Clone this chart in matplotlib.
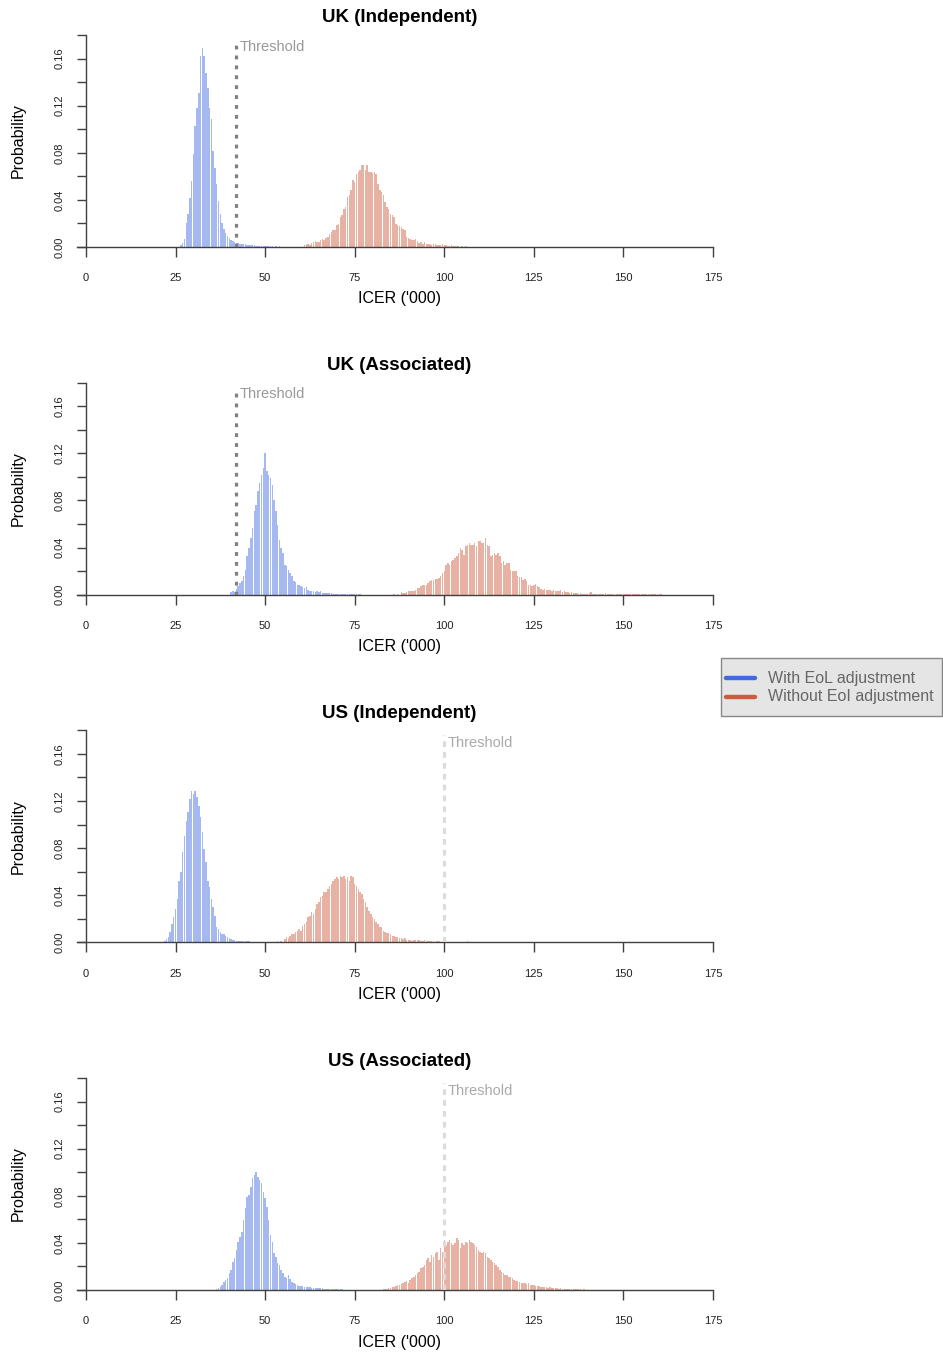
import numpy as np
import matplotlib
matplotlib.use('Agg')
import matplotlib.pyplot as plt
from matplotlib.lines import Line2D
from matplotlib.patches import Rectangle

plt.rcParams['font.family'] = ['Liberation Sans', 'DejaVu Sans']

# ICER histograms, bins of 0.5 ('000), probability per bin
bin_width = 0.5

titles = ['UK (Independent)', 'UK (Associated)', 'US (Independent)', 'US (Associated)']
thresholds = [42, 42, 100, 100]
series_labels = ['With EoL adjustment', 'Without EoI adjustment']

# first bin of each series
eol_start = [26.5, 40.5, 22.0, 36.5]
noeol_start = [61.0, 86.0, 53.5, 82.5]

uk_ind_eol = [0.0017, 0.0037, 0.0065, 0.0207, 0.0278, 0.0419, 0.0561, 0.0787, 0.1028, 0.1184,
              0.1311, 0.1623, 0.1693, 0.1623, 0.1481, 0.1354, 0.1184, 0.1085, 0.0816, 0.0674,
              0.0532, 0.0391, 0.0278, 0.0207, 0.0150, 0.0122, 0.0093, 0.0074, 0.0057, 0.0051,
              0.0042, 0.0037, 0.0031, 0.0028, 0.0025, 0.0023, 0.0023, 0.0020, 0.0017, 0.0017,
              0.0014, 0.0014, 0.0011, 0.0011, 0.0008, 0.0011, 0.0008, 0.0008, 0.0006, 0.0008,
              0.0006, 0.0006, 0.0004, 0.0006, 0.0003, 0.0005, 0.0003, 0.0003, 0.0004, 0.0002,
              0.0003]
uk_ind_noeol = [0.0014, 0.0028, 0.0023, 0.0017, 0.0034, 0.0042, 0.0051, 0.0040, 0.0045, 0.0057,
                0.0071, 0.0062, 0.0079, 0.0085, 0.0113, 0.0127, 0.0142, 0.0142, 0.0184, 0.0198,
                0.0255, 0.0269, 0.0326, 0.0340, 0.0425, 0.0439, 0.0481, 0.0566, 0.0552, 0.0623,
                0.0637, 0.0651, 0.0694, 0.0694, 0.0651, 0.0700, 0.0637, 0.0637, 0.0629, 0.0637,
                0.0623, 0.0538, 0.0481, 0.0467, 0.0439, 0.0382, 0.0340, 0.0326, 0.0283, 0.0269,
                0.0255, 0.0198, 0.0184, 0.0176, 0.0170, 0.0156, 0.0142, 0.0085, 0.0079, 0.0071,
                0.0057, 0.0062, 0.0071, 0.0051, 0.0034, 0.0040, 0.0028, 0.0042, 0.0028, 0.0023,
                0.0028, 0.0017, 0.0023, 0.0023, 0.0017, 0.0017, 0.0017, 0.0023, 0.0014, 0.0014,
                0.0008, 0.0006, 0.0014, 0.0011, 0.0006, 0.0008, 0.0006, 0.0004, 0.0006, 0.0003,
                0.0005, 0.0004, 0.0003, 0.0004, 0.0002, 0.0003, 0.0004, 0.0002, 0.0003, 0.0002,
                0.0003, 0.0002]

uk_ass_eol = [0.0023, 0.0028, 0.0023, 0.0051, 0.0071, 0.0099, 0.0113, 0.0156, 0.0212, 0.0326,
              0.0396, 0.0481, 0.0566, 0.0708, 0.0765, 0.0878, 0.0949, 0.1020, 0.1076, 0.1204,
              0.1048, 0.1020, 0.0991, 0.0935, 0.0807, 0.0708, 0.0595, 0.0467, 0.0396, 0.0354,
              0.0255, 0.0241, 0.0212, 0.0184, 0.0156, 0.0113, 0.0108, 0.0085, 0.0079, 0.0071,
              0.0062, 0.0057, 0.0062, 0.0042, 0.0028, 0.0028, 0.0034, 0.0023, 0.0028, 0.0023,
              0.0028, 0.0017, 0.0014, 0.0017, 0.0014, 0.0011, 0.0014, 0.0008, 0.0006, 0.0008,
              0.0006, 0.0006, 0.0006, 0.0003, 0.0006, 0.0003, 0.0004, 0.0005, 0.0003, 0.0003,
              0.0004, 0.0002, 0.0003]
uk_ass_noeol = [0.0006, 0.0000, 0.0008, 0.0000, 0.0023, 0.0014, 0.0011, 0.0023, 0.0034, 0.0028,
                0.0028, 0.0028, 0.0042, 0.0057, 0.0057, 0.0071, 0.0079, 0.0085, 0.0085, 0.0099,
                0.0113, 0.0127, 0.0127, 0.0136, 0.0136, 0.0142, 0.0156, 0.0184, 0.0198, 0.0255,
                0.0269, 0.0255, 0.0283, 0.0297, 0.0312, 0.0326, 0.0354, 0.0396, 0.0382, 0.0340,
                0.0411, 0.0425, 0.0439, 0.0425, 0.0425, 0.0439, 0.0411, 0.0453, 0.0453, 0.0439,
                0.0439, 0.0481, 0.0425, 0.0411, 0.0326, 0.0340, 0.0354, 0.0340, 0.0354, 0.0326,
                0.0269, 0.0283, 0.0255, 0.0269, 0.0269, 0.0212, 0.0198, 0.0204, 0.0198, 0.0156,
                0.0147, 0.0147, 0.0127, 0.0136, 0.0113, 0.0085, 0.0079, 0.0071, 0.0085, 0.0091,
                0.0071, 0.0062, 0.0051, 0.0042, 0.0051, 0.0040, 0.0042, 0.0037, 0.0034, 0.0040,
                0.0034, 0.0034, 0.0028, 0.0040, 0.0023, 0.0028, 0.0023, 0.0023, 0.0017, 0.0023,
                0.0017, 0.0014, 0.0011, 0.0008, 0.0014, 0.0008, 0.0008, 0.0008, 0.0008, 0.0014,
                0.0023, 0.0008, 0.0006, 0.0006, 0.0008, 0.0006, 0.0006, 0.0006, 0.0011, 0.0006,
                0.0004, 0.0003, 0.0005, 0.0003, 0.0004, 0.0003, 0.0002, 0.0004, 0.0003, 0.0002,
                0.0003, 0.0002, 0.0003, 0.0002, 0.0002, 0.0003, 0.0002, 0.0002, 0.0002, 0.0002,
                0.0003, 0.0002, 0.0002, 0.0002, 0.0003, 0.0002, 0.0002, 0.0002, 0.0002, 0.0002]

us_ind_eol = [0.0014, 0.0028, 0.0042, 0.0085, 0.0156, 0.0212, 0.0283, 0.0368, 0.0524, 0.0595,
              0.0765, 0.0906, 0.1034, 0.1104, 0.1218, 0.1289, 0.1260, 0.1289, 0.1232, 0.1161,
              0.1062, 0.0935, 0.0793, 0.0680, 0.0524, 0.0467, 0.0368, 0.0297, 0.0227, 0.0127,
              0.0113, 0.0085, 0.0071, 0.0071, 0.0057, 0.0042, 0.0034, 0.0028, 0.0023, 0.0017,
              0.0014, 0.0011, 0.0014, 0.0008, 0.0011, 0.0008, 0.0008, 0.0008, 0.0006, 0.0006,
              0.0006, 0.0004, 0.0005, 0.0003, 0.0004, 0.0003, 0.0003, 0.0002, 0.0003, 0.0002,
              0.0002, 0.0003, 0.0002, 0.0002, 0.0002, 0.0002]
us_ind_noeol = [0.0008, 0.0000, 0.0014, 0.0000, 0.0028, 0.0042, 0.0034, 0.0057, 0.0071, 0.0071,
                0.0085, 0.0099, 0.0113, 0.0099, 0.0142, 0.0156, 0.0170, 0.0212, 0.0227, 0.0255,
                0.0241, 0.0283, 0.0326, 0.0340, 0.0382, 0.0396, 0.0425, 0.0425, 0.0453, 0.0481,
                0.0496, 0.0524, 0.0538, 0.0552, 0.0538, 0.0566, 0.0552, 0.0566, 0.0538, 0.0552,
                0.0524, 0.0566, 0.0552, 0.0496, 0.0481, 0.0453, 0.0425, 0.0411, 0.0368, 0.0340,
                0.0297, 0.0269, 0.0241, 0.0212, 0.0198, 0.0170, 0.0156, 0.0127, 0.0127, 0.0099,
                0.0085, 0.0079, 0.0079, 0.0071, 0.0057, 0.0051, 0.0045, 0.0042, 0.0034, 0.0034,
                0.0028, 0.0034, 0.0023, 0.0023, 0.0017, 0.0014, 0.0023, 0.0017, 0.0023, 0.0017,
                0.0014, 0.0014, 0.0017, 0.0011, 0.0011, 0.0008, 0.0011, 0.0008, 0.0006, 0.0008,
                0.0008, 0.0006, 0.0006, 0.0008, 0.0006, 0.0006, 0.0004, 0.0003, 0.0005, 0.0003,
                0.0002, 0.0004, 0.0002, 0.0003, 0.0002, 0.0002, 0.0008, 0.0002, 0.0002, 0.0002]

us_ass_eol = [0.0008, 0.0014, 0.0028, 0.0042, 0.0071, 0.0085, 0.0099, 0.0142, 0.0170, 0.0241,
              0.0269, 0.0340, 0.0411, 0.0453, 0.0496, 0.0595, 0.0694, 0.0793, 0.0807, 0.0878,
              0.0949, 0.0977, 0.1005, 0.0963, 0.0935, 0.0906, 0.0835, 0.0779, 0.0708, 0.0595,
              0.0467, 0.0411, 0.0312, 0.0283, 0.0227, 0.0212, 0.0170, 0.0142, 0.0113, 0.0099,
              0.0127, 0.0091, 0.0071, 0.0057, 0.0051, 0.0042, 0.0037, 0.0034, 0.0034, 0.0028,
              0.0028, 0.0023, 0.0023, 0.0020, 0.0017, 0.0014, 0.0017, 0.0014, 0.0014, 0.0014,
              0.0011, 0.0011, 0.0008, 0.0008, 0.0008, 0.0008, 0.0006, 0.0006, 0.0006, 0.0006,
              0.0006, 0.0004, 0.0003, 0.0004, 0.0003, 0.0002, 0.0003, 0.0002]
us_ass_noeol = [0.0003, 0.0006, 0.0008, 0.0011, 0.0014, 0.0017, 0.0023, 0.0028, 0.0034, 0.0040,
                0.0042, 0.0051, 0.0057, 0.0071, 0.0079, 0.0062, 0.0085, 0.0099, 0.0108, 0.0127,
                0.0142, 0.0156, 0.0184, 0.0193, 0.0212, 0.0255, 0.0269, 0.0241, 0.0297, 0.0283,
                0.0312, 0.0326, 0.0255, 0.0354, 0.0326, 0.0425, 0.0382, 0.0411, 0.0425, 0.0396,
                0.0382, 0.0396, 0.0439, 0.0425, 0.0354, 0.0396, 0.0382, 0.0411, 0.0396, 0.0425,
                0.0411, 0.0396, 0.0382, 0.0368, 0.0340, 0.0326, 0.0312, 0.0326, 0.0312, 0.0283,
                0.0269, 0.0255, 0.0241, 0.0227, 0.0212, 0.0198, 0.0170, 0.0156, 0.0142, 0.0127,
                0.0127, 0.0113, 0.0108, 0.0099, 0.0085, 0.0079, 0.0079, 0.0071, 0.0057, 0.0062,
                0.0057, 0.0051, 0.0057, 0.0042, 0.0040, 0.0040, 0.0034, 0.0034, 0.0034, 0.0028,
                0.0025, 0.0023, 0.0023, 0.0017, 0.0023, 0.0020, 0.0017, 0.0017, 0.0014, 0.0011,
                0.0014, 0.0011, 0.0011, 0.0008, 0.0011, 0.0008, 0.0008, 0.0008, 0.0006, 0.0011,
                0.0008, 0.0006, 0.0004, 0.0005, 0.0003, 0.0004, 0.0003, 0.0002, 0.0004, 0.0003,
                0.0002, 0.0003, 0.0002, 0.0003, 0.0002, 0.0002, 0.0003, 0.0002, 0.0002, 0.0002,
                0.0002, 0.0003, 0.0002, 0.0002]

eol_series = [uk_ind_eol, uk_ass_eol, us_ind_eol, us_ass_eol]
noeol_series = [uk_ind_noeol, uk_ass_noeol, us_ind_noeol, us_ass_noeol]

x_ticks = [0, 25, 50, 75, 100, 125, 150, 175]
y_major = [0.0, 0.04, 0.08, 0.12, 0.16]
y_minor = [0.02, 0.06, 0.10, 0.14, 0.18]

blue = '#4169e1'
red = '#cd5c3c'
axis_col = '#404040'

W, H = 943, 1355
fig = plt.figure(figsize=(W / 100, H / 100), dpi=100)

left_px, width_px = 77, 636
x0_val, x_max = -2.5, 175
y_top = 0.18
height_px = 212
centre_px = 399.5

for k in range(4):
    zero_px = 247 + 347.67 * k
    ax = fig.add_axes([left_px / W, 1 - zero_px / H, width_px / W, height_px / H])

    for start, vals, col in [(eol_start[k], eol_series[k], blue),
                             (noeol_start[k], noeol_series[k], red)]:
        xs = start + bin_width * np.arange(len(vals))
        ax.bar(xs, vals, width=0.42, color=col, alpha=0.47, linewidth=0, zorder=1)

    thr = thresholds[k]
    if k < 2:
        ax.vlines(thr, 0, 0.176, colors='#808080', linewidth=2.3,
                  linestyles=(0, (1.2, 1.9)), zorder=3)
        ax.text(thr + 1.0, 0.170, 'Threshold', color='#999999', fontsize=10.5,
                ha='left', va='center')
    else:
        ax.vlines(thr, 0, 0.176, colors='#dcdcdc', linewidth=2.3,
                  linestyles=(0, (1.8, 1.6)), zorder=3)
        ax.text(thr + 1.0, 0.169, 'Threshold', color='#aaaaaa', fontsize=10.5,
                ha='left', va='center')

    ax.set_xlim(x0_val, x_max)
    ax.set_ylim(0, y_top)
    ax.patch.set_alpha(0)
    for s in ['top', 'right']:
        ax.spines[s].set_visible(False)
    ax.spines['left'].set_bounds(0, y_top)
    ax.spines['left'].set_position(('data', 0))
    for s in ['left', 'bottom']:
        ax.spines[s].set_color(axis_col)
        ax.spines[s].set_linewidth(1.0)

    ax.set_xticks(x_ticks)
    ax.set_xticklabels([str(t) for t in x_ticks])
    ax.set_yticks(y_major)
    ax.set_yticklabels(['%.2f' % v for v in y_major])
    ax.set_yticks(y_minor, minor=True)
    ax.tick_params(axis='x', length=7, width=1.0, color=axis_col, labelsize=8,
                   pad=12, labelcolor='#222222')
    ax.tick_params(axis='y', which='both', length=6.5, width=1.0, color=axis_col,
                   labelsize=8, pad=9, labelcolor='#222222')
    for lab in ax.get_yticklabels():
        lab.set_rotation(90)
        lab.set_va('center')

    fig.text(centre_px / W, 1 - (zero_px - 229) / H, titles[k], fontsize=13.5,
             fontweight='bold', ha='center', va='center')
    fig.text(centre_px / W, 1 - (zero_px + 52) / H, "ICER ('000)", fontsize=11.5,
             ha='center', va='center')
    fig.text(18.5 / W, 1 - (zero_px - 106) / H, 'Probability', fontsize=11.5,
             rotation=90, ha='center', va='center')

# legend box between the second and third panels
fig.patches.append(Rectangle((721 / W, 1 - 716 / H), 221 / W, 58 / H,
                             transform=fig.transFigure, facecolor='#e5e5e5',
                             edgecolor='#888888', linewidth=1.0))
for row_px, col, label in zip([678, 697], [blue, red], series_labels):
    fig.lines.append(Line2D([726 / W, 755 / W], [1 - row_px / H] * 2,
                            transform=fig.transFigure, color=col, linewidth=3.2,
                            solid_capstyle='round'))
    fig.text(768 / W, 1 - row_px / H, label, fontsize=11.5, color='#666666',
             ha='left', va='center')

fig.savefig('out.png', dpi=100)
